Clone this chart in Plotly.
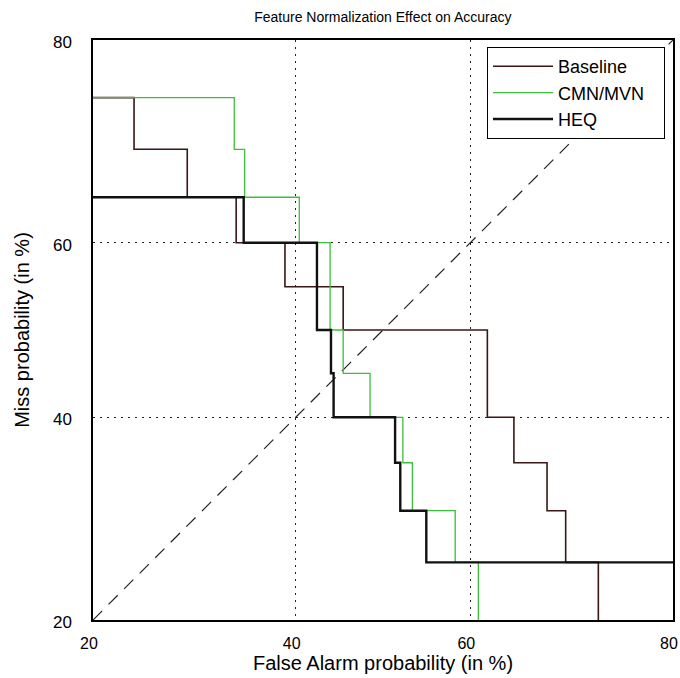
import plotly.graph_objects as go
from statistics import NormalDist

_nd = NormalDist()


def probit(values):
    return [_nd.inv_cdf(v / 100.0) for v in values]


# Axis ticks (percent)
tick_vals = [20, 40, 60, 80]
tick_text = ["20", "40", "60", "80"]

# Step curves: false alarm (%) breakpoints and miss (%) levels
baseline_fa = [20, 23.5, 28.5, 33.5, 38.8, 45.4, 61.9, 64.8, 68.3, 70.2, 73.4]
baseline_miss = [75, 70, 65, 60, 55, 50, 40, 35, 30, 25, 20]

cmn_fa = [20, 33.3, 34.4, 40.4, 43.9, 45.4, 48.5, 52.3, 53.4, 58.3, 60.9]
cmn_miss = [75, 70, 65, 60, 50, 45, 40, 35, 30, 25, 20]

heq_fa = [20, 34.3, 42.4, 44.0, 44.3, 51.4, 52.0, 55.0, 80]
heq_miss = [65, 60, 50, 45, 40, 35, 30, 25, 25]

diag = [20, 80]

FONT = "Liberation Sans, Arial, sans-serif"
PAD = "\u00a0\u00a0\u00a0"

fig = go.Figure()

fig.add_trace(go.Scatter(
    x=probit(diag), y=probit(diag), mode="lines",
    line=dict(color="#222222", width=1.2, dash="13px,9px"),
    showlegend=False, hoverinfo="skip"))

fig.add_trace(go.Scatter(
    x=probit(baseline_fa), y=probit(baseline_miss), mode="lines",
    line=dict(color="#3a1616", width=1.6, shape="hv"),
    name="Baseline" + PAD, legendgroup="a"))

fig.add_trace(go.Scatter(
    x=probit(cmn_fa), y=probit(cmn_miss), mode="lines",
    line=dict(color="#3cbf3c", width=1.3, shape="hv"),
    name="CMN/MVN" + PAD, legendgroup="b"))

fig.add_trace(go.Scatter(
    x=probit(heq_fa), y=probit(heq_miss), mode="lines",
    line=dict(color="#111111", width=2.4, shape="hv"),
    name="HEQ" + PAD, legendgroup="c"))

rng = probit([20, 80])
axis_common = dict(
    range=rng, tickvals=probit(tick_vals), ticktext=tick_text,
    showgrid=True, gridcolor="#222222", griddash="2px,5px", gridwidth=1,
    showline=True, linecolor="black", linewidth=1.5, mirror=True,
    zeroline=False, ticks="", automargin=False, ticklabeloverflow="allow",
)

fig.update_xaxes(**axis_common, ticklabelstandoff=8, ticklabelshift=-4,
                 tickfont=dict(family=FONT, size=16, color="black"),
                 title=dict(text="False Alarm probability (in %)", standoff=5,
                            font=dict(family=FONT, size=20, color="black")))
fig.update_yaxes(**axis_common, ticklabelstandoff=16, ticklabelshift=2,
                 tickfont=dict(family=FONT, size=17, color="black"),
                 title=dict(text="Miss probability (in %)", standoff=18,
                            font=dict(family=FONT, size=20, color="black")))

fig.update_layout(
    width=680, height=678,
    margin=dict(l=93, r=7, t=40, b=58),
    plot_bgcolor="white", paper_bgcolor="white",
    title=dict(text="Feature Normalization Effect on Accuracy",
               x=0.563, xanchor="center", y=1 - 17 / 678, yanchor="middle",
               font=dict(family=FONT, size=14, color="black")),
    legend=dict(x=(665 - 93) / 580, xanchor="right", y=(620 - 47) / 580, yanchor="top",
                bgcolor="white", bordercolor="black", borderwidth=1,
                traceorder="grouped", tracegroupgap=0, itemwidth=60,
                font=dict(family=FONT, size=18, color="black")),
    showlegend=True,
)

fig.write_html("out.html")
